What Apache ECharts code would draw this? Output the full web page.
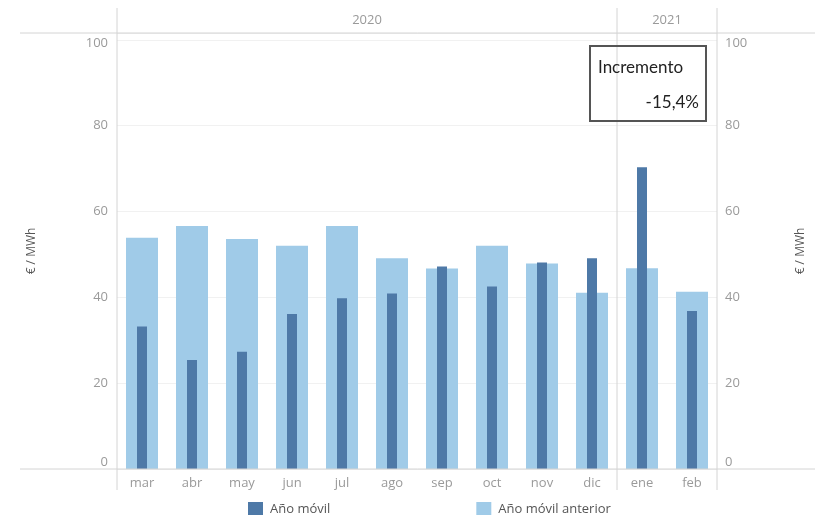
<!DOCTYPE html>
<html>
<head>
<meta charset="utf-8">
<script src="https://cdn.jsdelivr.net/npm/echarts@6/dist/echarts.min.js"></script>
<style>
html,body{margin:0;padding:0;background:#fff;}
#chart{width:815px;height:515px;}
</style>
</head>
<body>
<div id="chart"></div>
<script>
const months = ['mar','abr','may','jun','jul','ago','sep','oct','nov','dic','ene','feb'];
const monthYears = ['2020','2020','2020','2020','2020','2020','2020','2020','2020','2020','2021','2021'];
const anoMovil = [33.2, 25.4, 27.3, 36.1, 39.8, 40.9, 47.2, 42.5, 48.1, 49.1, 70.3, 36.8];
const anoMovilAnterior = [53.9, 56.6, 53.6, 52.0, 56.6, 49.1, 46.7, 52.0, 47.9, 41.1, 46.8, 41.3];
const yTicks = [0, 20, 40, 60, 80, 100];
const annotationTitle = 'Incremento';
const annotationValue = '-15,4%';
const seriesNames = ['Año móvil', 'Año móvil anterior'];
const yTitle = '€ / MWh';

const FONT = '"Open Sans", sans-serif';
const LABEL_COLOR = '#9a9a9a';
const LINE_COLOR = '#d4d4d4';

const chart = echarts.init(document.getElementById('chart'), null, {renderer: 'canvas'});

function yLabelFmt(v) {
  if (yTicks.indexOf(Math.round(v * 1000) / 1000) < 0) return '';
  if (v === 0) return '{z|0}';
  if (v === 100) return '{t|100}';
  return String(v);
}

const yAxisBase = {
  type: 'value',
  min: 0,
  max: 101.6,
  interval: 20,
  name: yTitle,
  nameLocation: 'middle',
  nameRotate: 90,
  nameTextStyle: {color: '#555', fontFamily: FONT, fontSize: 12},
  axisLine: {show: false},
  axisTick: {show: false},
  splitLine: {show: true, lineStyle: {color: '#f1f1f1', width: 1}},
  axisLabel: {
    color: LABEL_COLOR, fontFamily: FONT, fontSize: 13, margin: 9,
    formatter: yLabelFmt,
    rich: {
      z: {color: LABEL_COLOR, fontFamily: FONT, fontSize: 13, padding: [0, 0, 14, 0]},
      t: {color: LABEL_COLOR, fontFamily: FONT, fontSize: 13, padding: [6, 0, 0, 0]}
    }
  }
};

const xAxisBase = {
  type: 'category',
  data: months,
  axisLine: {show: false},
  axisTick: {show: false},
  axisLabel: {color: LABEL_COLOR, fontFamily: FONT, fontSize: 13, margin: 8}
};

const option = {
  animation: false,
  backgroundColor: '#fff',
  grid: {left: 117, right: 98, top: 33, bottom: 46, containLabel: false},
  legend: {
    data: [seriesNames[0], seriesNames[1]],
    left: 243, top: 497,
    icon: 'rect', itemWidth: 15, itemHeight: 15, itemGap: 146,
    textStyle: {color: '#555', fontFamily: FONT, fontSize: 13, padding: [0, 0, 0, 2]}
  },
  xAxis: [
    xAxisBase,
    Object.assign({}, xAxisBase, {show: false})
  ],
  yAxis: [
    Object.assign({}, yAxisBase, {position: 'left', nameGap: 79}),
    Object.assign({}, yAxisBase, {position: 'right', nameGap: 78, splitLine: {show: false},
      axisLabel: Object.assign({}, yAxisBase.axisLabel, {margin: 8})})
  ],
  series: [
    {
      name: seriesNames[1], type: 'bar', data: anoMovilAnterior,
      barWidth: 32, itemStyle: {color: '#a0cbe8'}, xAxisIndex: 0, yAxisIndex: 0
    },
    {
      name: seriesNames[0], type: 'bar', data: anoMovil,
      barWidth: 10, itemStyle: {color: '#4e79a7'}, xAxisIndex: 1, yAxisIndex: 0, z: 3
    }
  ]
};
chart.setOption(option);

// Structural lines and year header from axis positions
const x0 = chart.convertToPixel({xAxisIndex: 0}, 0);
const x1 = chart.convertToPixel({xAxisIndex: 0}, 1);
const band = x1 - x0;
const leftEdge = x0 - band / 2;
const rightEdge = chart.convertToPixel({xAxisIndex: 0}, months.length - 1) + band / 2;
const yTop = chart.convertToPixel({yAxisIndex: 0}, 101.6);
const yZero = chart.convertToPixel({yAxisIndex: 0}, 0);

const graphics = [];
function line(xa, ya, xb, yb) {
  graphics.push({type: 'line', shape: {x1: xa, y1: ya, x2: xb, y2: yb},
    style: {stroke: LINE_COLOR, lineWidth: 1}, z: 10, silent: true});
}
line(20, yTop, 815, yTop);
line(20, yZero, 815, yZero);
line(leftEdge, 8, leftEdge, 490);
line(rightEdge, 8, rightEdge, 490);

// Year groups
const years = [];
monthYears.forEach((y, i) => {
  let g = years.find(o => o.year === y);
  if (!g) { g = {year: y, first: i, last: i}; years.push(g); } else g.last = i;
});
years.forEach((g, gi) => {
  const xs = chart.convertToPixel({xAxisIndex: 0}, g.first) - band / 2;
  const xe = chart.convertToPixel({xAxisIndex: 0}, g.last) + band / 2;
  graphics.push({type: 'text', x: (xs + xe) / 2, y: 20,
    style: {text: g.year, fill: LABEL_COLOR, font: '13px ' + FONT, textAlign: 'center', textVerticalAlign: 'middle'}, z: 10});
  if (gi > 0) line(xs, 8, xs, 490);
});

// Annotation box
graphics.push({type: 'rect', shape: {x: 590, y: 46, width: 116, height: 75},
  style: {fill: 'rgba(255,255,255,0)', stroke: '#555', lineWidth: 2}, z: 11});
graphics.push({type: 'text', x: 598, y: 68,
  style: {text: annotationTitle, fill: '#222', font: '17px Lato, "Open Sans", sans-serif', textAlign: 'left', textVerticalAlign: 'middle'}, z: 12});
graphics.push({type: 'text', x: 699, y: 103,
  style: {text: annotationValue, fill: '#222', font: '17px Lato, "Open Sans", sans-serif', textAlign: 'right', textVerticalAlign: 'middle'}, z: 12});

chart.setOption({graphic: graphics});
</script>
</body>
</html>
